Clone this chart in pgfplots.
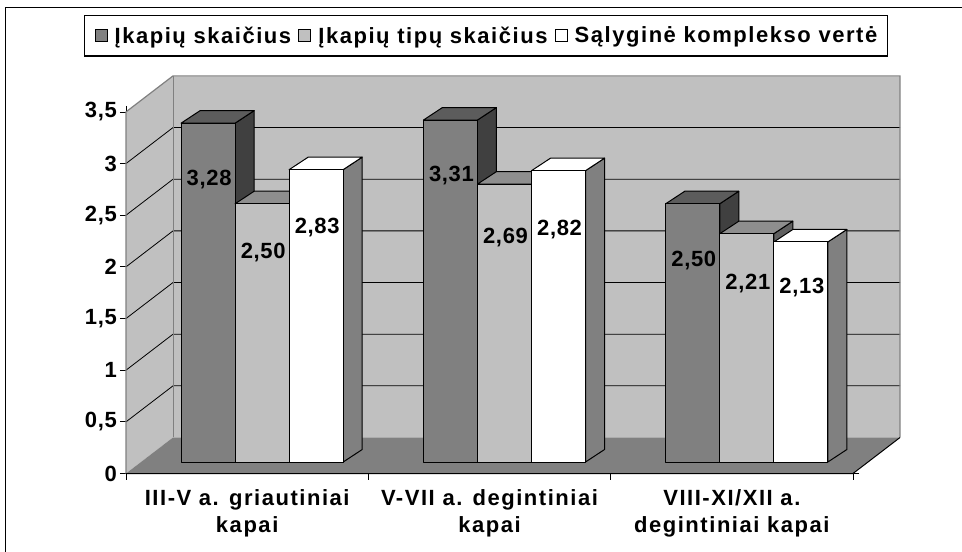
\documentclass[border=0pt]{standalone}
\usepackage{pgfplots}
\pgfplotsset{compat=1.18}
\usepackage{fontspec}
\newfontfamily\chartfont{Liberation Sans}[LetterSpace=7]
\newfontfamily\numfont{Liberation Sans}[LetterSpace=3]
\newcommand\lab{\chartfont\bfseries\fontsize{22bp}{27.6bp}\selectfont}
\newcommand\num{\numfont\bfseries\fontsize{22bp}{27.6bp}\selectfont}

\definecolor{cWall}{HTML}{C0C0C0}
\definecolor{cFloor}{HTML}{808080}
\definecolor{cEdge}{HTML}{808080}
\definecolor{dF}{HTML}{808080}
\definecolor{dT}{HTML}{5C5C5C}
\definecolor{dS}{HTML}{404040}
\definecolor{lF}{HTML}{C0C0C0}
\definecolor{lT}{HTML}{8E8E8E}
\definecolor{lS}{HTML}{606060}
\definecolor{wF}{HTML}{FFFFFF}
\definecolor{wT}{HTML}{FFFFFF}
\definecolor{wS}{HTML}{808080}

\pgfdeclareplotmark{nothing}{}

\pgfplotsset{
  bar3d/.style n args={3}{
    only marks, mark=nothing, scatter,
    point meta=explicit symbolic,
    visualization depends on={rawy\as\v},
    scatter/@pre marker code/.code={%
      \pgfmathsetmacro\hb{11.5-\v*103.314}%
      \pgfmathsetmacro\hc{\hb+12.5}%
      \pgfmathsetmacro\ly{11.5-\pgfplotspointmeta}%
      \filldraw[fill=#3,draw=black,line width=1bp,line join=round]
        (42bp,\hb bp) -- (42bp,11.5bp) -- (61bp,24bp) -- (61bp,\hc bp) -- cycle;
      \filldraw[fill=#2,draw=black,line width=1bp,line join=round]
        (-12bp,11.5bp) -- (42bp,11.5bp) -- (61bp,24bp) -- (7bp,24bp) -- cycle;
      \filldraw[fill=#1,draw=black,line width=1bp,line join=round]
        (-12bp,\hb bp) rectangle (42bp,11.5bp);
      \node[font=\num, inner sep=0pt, text=black] at (16bp,\ly bp)
        {\pgfmathprintnumber[fixed,fixed zerofill,precision=2,use comma,assume math mode=true]{\v}};
    },
    scatter/@post marker code/.code={},
    legend image code/.code={%
      \draw[fill=#1,draw=black,line width=1bp] (0bp,-6bp) rectangle (12bp,6bp);
      \path (17bp,0bp) (-2bp,0bp);},
  }
}

\begin{document}
\begin{tikzpicture}
\useasboundingbox (0,0) rectangle (962bp,552bp);
\fill[white] (0,0) rectangle (962bp,552bp);
\draw[black, line width=1.5bp] (5.7bp,0) -- (5.7bp,544.7bp) -- (962bp,544.7bp);
\begin{axis}[
  at={(126bp,78.5bp)}, anchor=south west,
  scale only axis, width=727bp, height=361.6bp,
  xmin=0, xmax=3, ymin=0, ymax=3.5,
  enlargelimits=false, clip=false,
  axis line style={draw=none},
  tick align=outside,
  major tick length=6bp,
  tick style={black, line width=0.8bp},
  xtick={0,1,2,3}, xticklabels={},
  extra x ticks={0.5,1.5,2.5},
  extra x tick labels={{III-V a. griautiniai\\kapai},{V-VII a. degintiniai\\kapai},{VIII-XI/XII a.\\degintiniai kapai}},
  extra x tick style={major tick length=0pt},
  xticklabel style={font=\lab, align=center, inner sep=0pt, yshift=-15.5bp},
  ytick={0,0.5,1,1.5,2,2.5,3,3.5},
  yticklabel style={font=\num, inner sep=0pt, xshift=-3bp},
  /pgf/number format/use comma,
  /pgf/number format/assume math mode=true,
  legend columns=3,
  legend cell align=left,
  legend style={at={(0.495,1.211)}, anchor=center, draw=black, line width=1.2bp,
    font=\lab, inner xsep=8bp, inner ysep=9.5bp,
    nodes={inner sep=2pt},
    /tikz/every even column/.append style={column sep=3bp}},
]
% walls and floor
\fill[cWall] (0,0) -- (0.194,0.3485) -- (0.194,3.8485) -- (0,3.5) -- cycle;
\fill[cWall] (0.194,0.3485) rectangle (3.194,3.8485);
\fill[cFloor] (0,0) -- (3,0) -- (3.194,0.3485) -- (0.194,0.3485) -- cycle;
% gridlines
\draw[black, line width=0.8bp] (0,0.5) -- (0.194,0.8485) -- (3.194,0.8485);
\draw[black, line width=0.8bp] (0,1) -- (0.194,1.3485) -- (3.194,1.3485);
\draw[black, line width=0.8bp] (0,1.5) -- (0.194,1.8485) -- (3.194,1.8485);
\draw[black, line width=0.8bp] (0,2) -- (0.194,2.3485) -- (3.194,2.3485);
\draw[black, line width=0.8bp] (0,2.5) -- (0.194,2.8485) -- (3.194,2.8485);
\draw[black, line width=0.8bp] (0,3) -- (0.194,3.3485) -- (3.194,3.3485);
% edges
\draw[cEdge, line width=1.2bp] (0,0) -- (0,3.5) -- (0.194,3.8485) -- (3.194,3.8485) -- (3.194,0.3485);
\draw[cEdge, line width=1bp] (0.194,0.3485) -- (0.194,3.8485);
\draw[black, line width=1bp] (0,0) -- (3,0) -- (3.194,0.3485);

\addplot[bar3d={dF}{dT}{dS}] coordinates {(0.277,3.28) [56] (1.277,3.31) [55] (2.277,2.50) [56.5]};
\addlegendentry{Įkapių skaičius}
\addplot[bar3d={lF}{lT}{lS}] coordinates {(0.5,2.50) [49] (1.5,2.69) [53] (2.5,2.21) [49.5]};
\addlegendentry{Įkapių tipų skaičius}
\addplot[bar3d={wF}{wT}{wS}] coordinates {(0.723,2.83) [58] (1.723,2.82) [58.6] (2.723,2.13) [46]};
\addlegendentry{Sąlyginė komplekso vertė}
\end{axis}
\end{tikzpicture}
\end{document}
